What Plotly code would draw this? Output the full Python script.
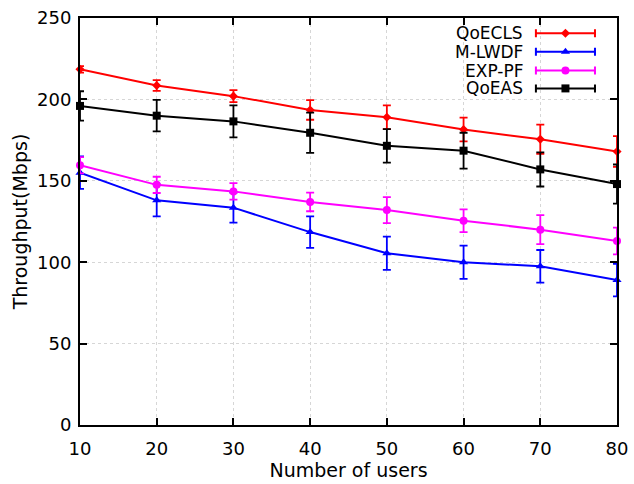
import plotly.graph_objects as go

# Throughput vs. number of users for four schedulers
users = [10, 20, 30, 40, 50, 60, 70, 80]

qoecls = [218.5, 208.5, 202.0, 193.5, 189.0, 181.5, 175.5, 168.0]
qoecls_err = [2.0, 3.3, 3.7, 6.0, 7.3, 7.3, 9.0, 9.4]

mlwdf = [155.0, 138.0, 133.5, 118.5, 105.5, 100.0, 97.5, 89.0]
mlwdf_err = [10.0, 9.8, 9.2, 9.7, 10.2, 10.2, 10.0, 10.0]

exppf = [159.5, 147.5, 143.5, 137.0, 132.0, 125.5, 120.0, 113.0]
exppf_err = [5.0, 5.0, 5.1, 5.7, 8.0, 7.0, 8.9, 8.2]

qoeas = [196.0, 190.0, 186.5, 179.5, 171.5, 168.5, 157.0, 148.0]
qoeas_err = [9.0, 9.7, 9.8, 12.4, 10.3, 11.0, 10.5, 12.0]

series = [
    ("QoECLS", qoecls, qoecls_err, "#ff0000", "diamond", 7),
    ("M-LWDF", mlwdf, mlwdf_err, "#0000ff", "triangle-up", 8),
    ("EXP-PF", exppf, exppf_err, "#ff00ff", "circle", 8),
    ("QoEAS", qoeas, qoeas_err, "#000000", "square", 8),
]

FONT = "DejaVu Sans"
fig = go.Figure()

for name, vals, errs, color, symbol, size in series:
    fig.add_trace(go.Scatter(
        x=users, y=vals, name=name, mode="lines+markers",
        line=dict(color=color, width=2),
        marker=dict(color=color, symbol=symbol, size=size),
        error_y=dict(type="data", array=errs, visible=True,
                     color=color, thickness=1.8, width=4),
        cliponaxis=False, showlegend=False,
    ))

# gnuplot-style key: label on the left, sample with caps on the right
key_rows = [0.9625, 0.917, 0.871, 0.827]
for (name, vals, errs, color, symbol, size), ky in zip(series, key_rows):
    fig.add_trace(go.Scatter(
        x=[0.904], y=[ky], mode="markers", xaxis="x2", yaxis="y2",
        marker=dict(color=color, symbol=symbol, size=size),
        error_x=dict(type="data", array=[0.055], visible=True,
                     color=color, thickness=2, width=4),
        showlegend=False, hoverinfo="skip", cliponaxis=False,
    ))
    fig.add_annotation(
        x=0.826, y=ky, xref="paper", yref="paper", text=name,
        showarrow=False, xanchor="right", yanchor="middle", borderpad=0,
        font=dict(family=FONT, size=17, color="black"),
    )

axis_common = dict(
    showline=True, linecolor="black", linewidth=2, mirror="ticks",
    ticks="inside", ticklen=7, tickwidth=2, tickcolor="black",
    showgrid=True, gridcolor="#d6d6d6", griddash="dot", gridwidth=1,
    zeroline=False, automargin=False,
    tickfont=dict(family=FONT, size=18, color="black"),
)

fig.update_layout(
    width=634, height=484,
    margin=dict(l=80, r=17, t=18, b=59),
    paper_bgcolor="white", plot_bgcolor="white",
    font=dict(family=FONT, color="black"),
    xaxis=dict(range=[10, 80], dtick=10, tick0=10, ticklabelstandoff=6,
               title=dict(text="Number of users", standoff=2,
                          font=dict(family=FONT, size=19)),
               **axis_common),
    yaxis=dict(range=[0, 250], dtick=50, ticklabelstandoff=3,
               title=dict(text="Throughput(Mbps)", standoff=4,
                          font=dict(family=FONT, size=19)),
               **axis_common),
    xaxis2=dict(overlaying="x", range=[0, 1], visible=False, anchor="y2"),
    yaxis2=dict(overlaying="y", range=[0, 1], visible=False, anchor="x2"),
    showlegend=False,
)

fig.write_html("out.html")
